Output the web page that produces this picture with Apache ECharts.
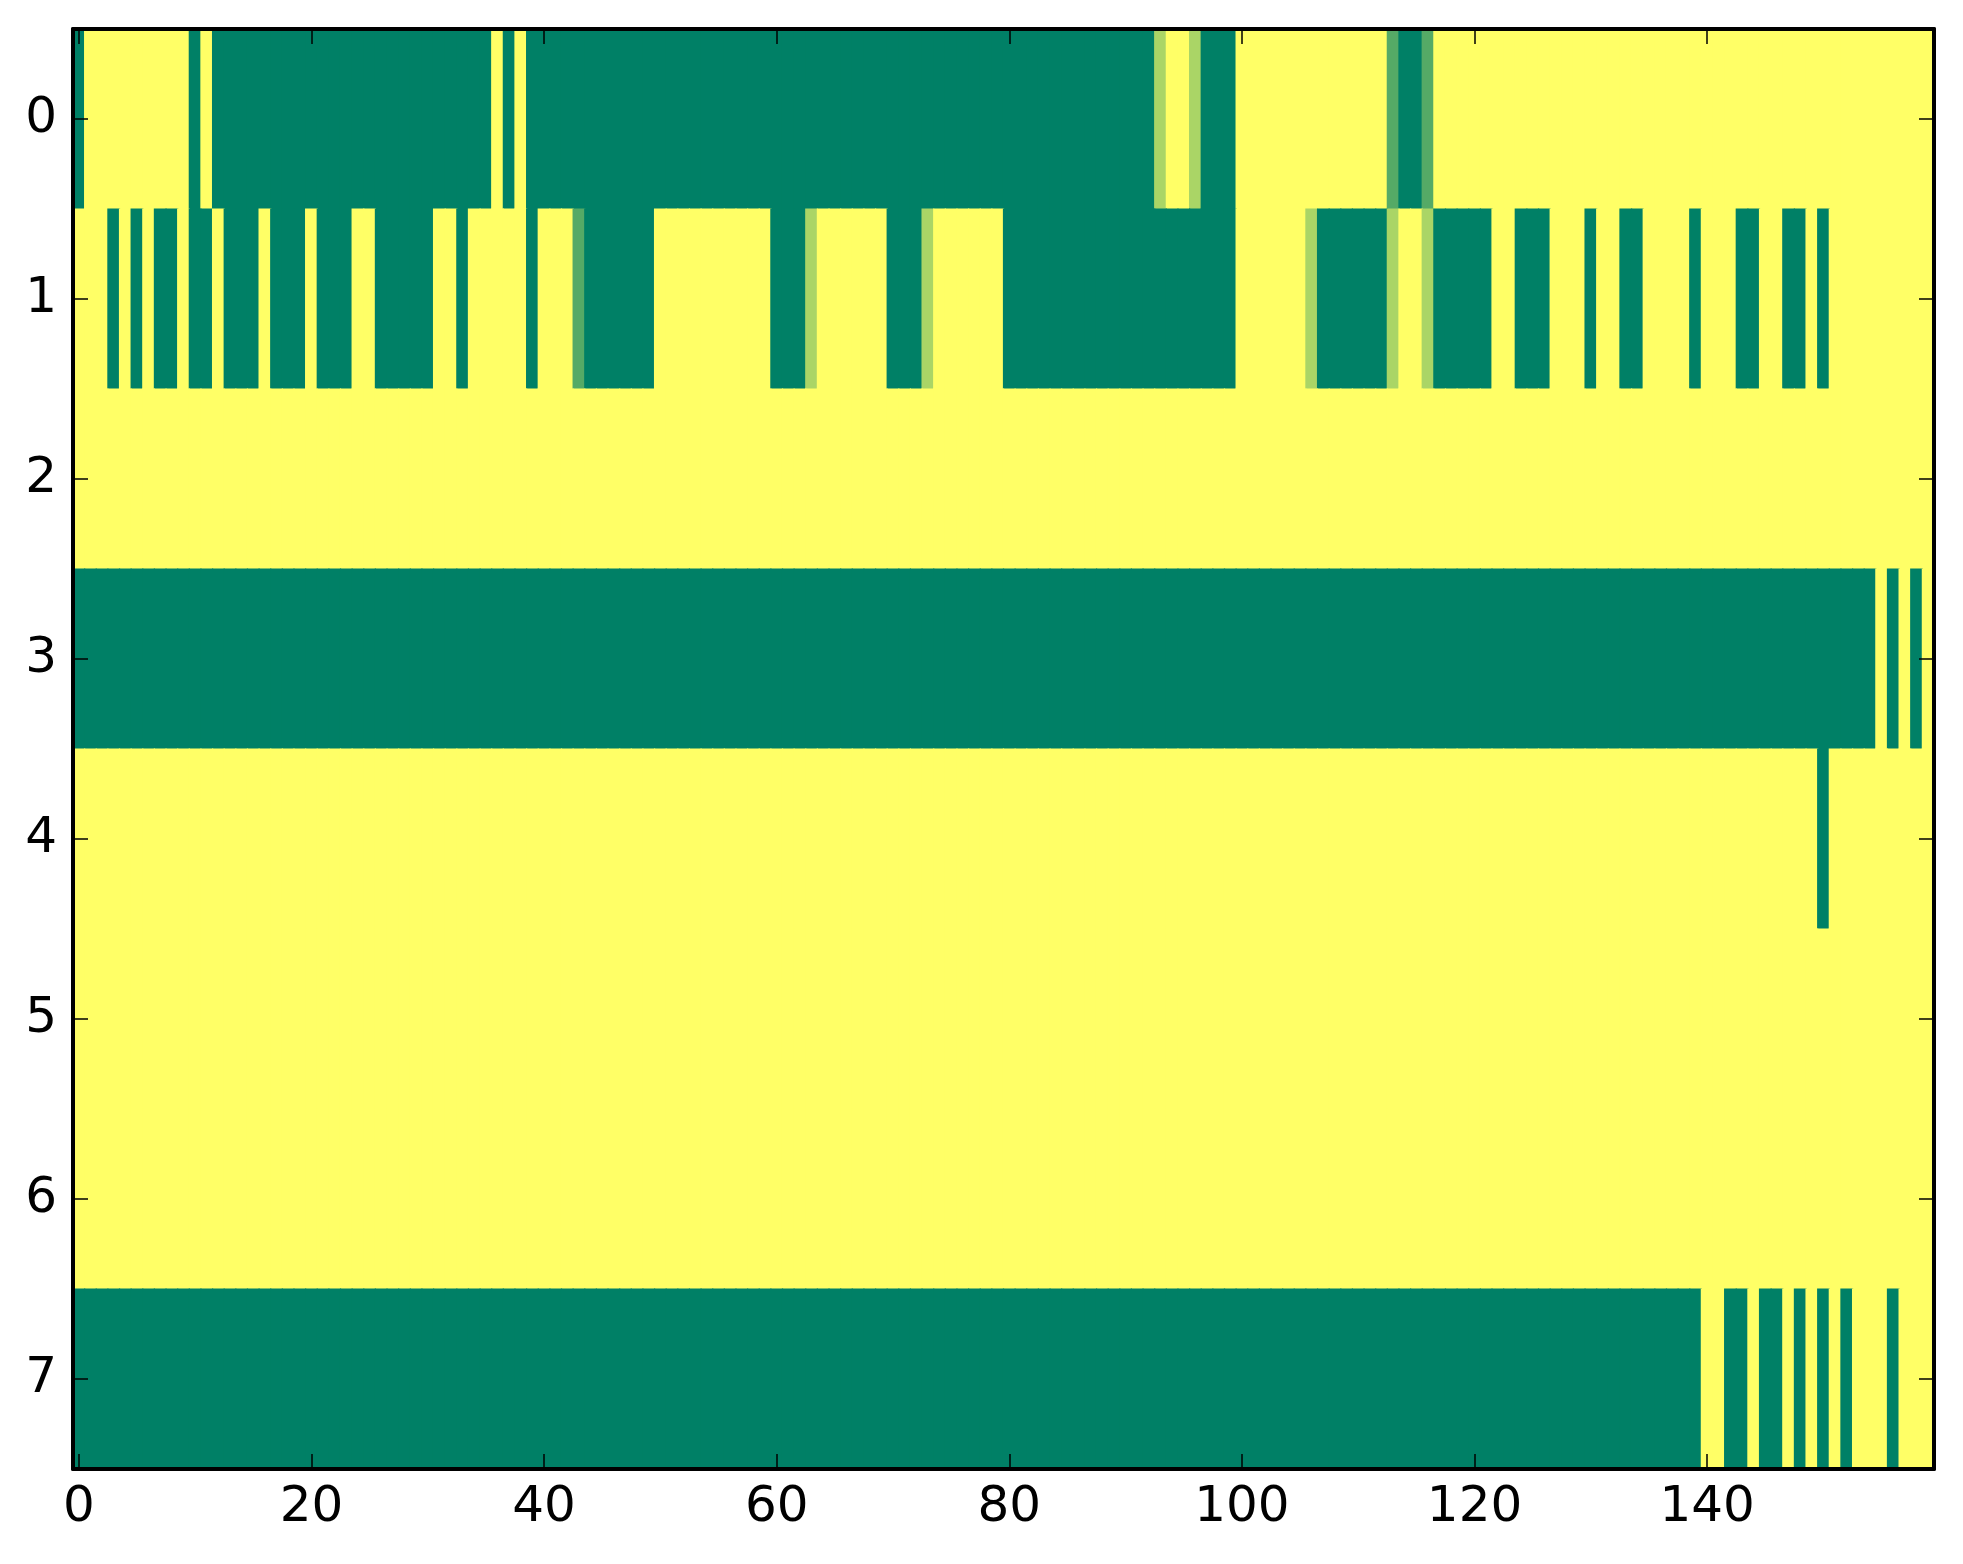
<!DOCTYPE html>
<html>
<head>
<meta charset="utf-8">
<script src="https://cdn.jsdelivr.net/npm/echarts@6/dist/echarts.min.js"></script>
<style>
html,body{margin:0;padding:0;background:#fff;}
#chart{width:1963px;height:1564px;}
</style>
</head>
<body>
<div id="chart"></div>
<script>
// Cell values in thirds: digit d means value d/3 (0 = dark green, 3 = yellow)
const row0 = "0333333333 0300000000 0000000000 0000003030 0000000000 0000000000 0000000000 0000000000 0000000000 0002332000 3333333333 3331001333 3333333333 3333333333 3333333333 3333333333";
const row1 = "3330303003 0030003000 3000330000 0330333330 3331000000 3333333333 0002333333 0002333333 0000000000 0000000000 3333332000 0002332000 0033000333 0330033330 3330033003 0333333333";
const row2 = "3333333333 3333333333 3333333333 3333333333 3333333333 3333333333 3333333333 3333333333 3333333333 3333333333 3333333333 3333333333 3333333333 3333333333 3333333333 3333333333";
const row3 = "0000000000 0000000000 0000000000 0000000000 0000000000 0000000000 0000000000 0000000000 0000000000 0000000000 0000000000 0000000000 0000000000 0000000000 0000000000 0000030303";
const row4 = "3333333333 3333333333 3333333333 3333333333 3333333333 3333333333 3333333333 3333333333 3333333333 3333333333 3333333333 3333333333 3333333333 3333333333 3333333333 0333333333";
const row5 = "3333333333 3333333333 3333333333 3333333333 3333333333 3333333333 3333333333 3333333333 3333333333 3333333333 3333333333 3333333333 3333333333 3333333333 3333333333 3333333333";
const row6 = "3333333333 3333333333 3333333333 3333333333 3333333333 3333333333 3333333333 3333333333 3333333333 3333333333 3333333333 3333333333 3333333333 3333333333 3333333333 3333333333";
const row7 = "0000000000 0000000000 0000000000 0000000000 0000000000 0000000000 0000000000 0000000000 0000000000 0000000000 0000000000 0000000000 0000000000 0000000000 3300300303 0303330333";

const rows = [row0, row1, row2, row3, row4, row5, row6, row7];
const yCategories = ['0', '1', '2', '3', '4', '5', '6', '7'];
const xCategories = [];
for (let i = 0; i < 160; i++) xCategories.push(String(i));

const data = [];
rows.forEach(function (r, y) {
  const s = r.replace(/\s+/g, '');
  for (let x = 0; x < s.length; x++) {
    data.push([x, y, Number(s[x]) / 3]);
  }
});

const FONT = 'DejaVu Sans';
const lineStyle = { color: '#000', width: 4 };
const tickStyle = { color: '#000', width: 1.5 };

function xAxis(pos, showLabel) {
  return {
    type: 'category', data: xCategories, position: pos, z: 10,
    axisLine: { show: true, onZero: false, lineStyle: lineStyle },
    axisTick: { show: true, inside: true, length: 15, interval: 19, alignWithLabel: true, lineStyle: tickStyle },
    axisLabel: { show: showLabel, interval: 19, fontSize: 50, fontFamily: FONT, color: '#000', margin: 14 },
    splitLine: { show: false }, splitArea: { show: false }
  };
}
function yAxis(pos, showLabel) {
  return {
    type: 'category', data: yCategories, position: pos, inverse: true, z: 10,
    axisLine: { show: true, onZero: false, lineStyle: lineStyle },
    axisTick: { show: true, inside: true, length: 15, alignWithLabel: true, lineStyle: tickStyle },
    axisLabel: { show: showLabel, fontSize: 50, fontFamily: FONT, color: '#000', margin: 16 },
    splitLine: { show: false }, splitArea: { show: false }
  };
}

const chart = echarts.init(document.getElementById('chart'), null, { renderer: 'canvas' });
chart.setOption({
  animation: false,
  backgroundColor: '#ffffff',
  grid: { left: 73, top: 29, width: 1861, height: 1440, containLabel: false },
  xAxis: [xAxis('bottom', true), xAxis('top', false)],
  yAxis: [yAxis('left', true), yAxis('right', false)],
  visualMap: {
    show: false, type: 'continuous', min: 0, max: 1, dimension: 2, seriesIndex: 0,
    inRange: { color: ['#008066', '#ffff66'] }
  },
  series: [{
    type: 'custom', xAxisIndex: 0, yAxisIndex: 0,
    data: data, progressive: 0,
    encode: { x: 0, y: 1 },
    renderItem: function (params, api) {
      const c = api.coord([api.value(0), api.value(1)]);
      const s = api.size([1, 1]);
      const pad = 0.6;
      return {
        type: 'rect',
        shape: { x: c[0] - s[0] / 2 - pad, y: c[1] - s[1] / 2 - pad, width: s[0] + 2 * pad, height: s[1] + 2 * pad },
        style: { fill: api.visual('color') }
      };
    },
    clip: true
  }]
});
</script>
</body>
</html>
